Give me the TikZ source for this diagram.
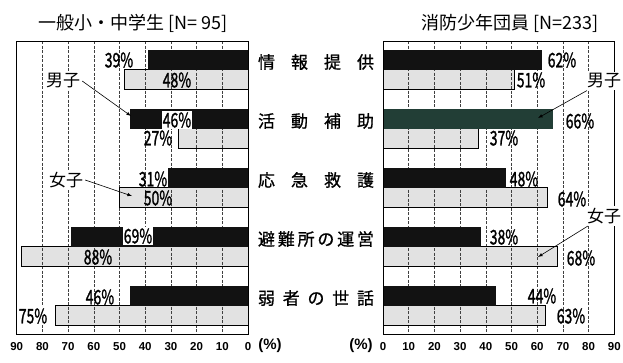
\documentclass[tikz,border=0pt]{standalone}
\usepackage{fontspec}
\setmainfont{Noto Sans CJK JP}
\newfontfamily\axf{Liberation Sans}
\newfontfamily\pcf{Noto Sans CJK JP}[FakeBold=1.6]
\newfontfamily\ctf{Noto Sans CJK JP}[FakeBold=0.8]
\usepackage{tikz}
\definecolor{dk}{RGB}{18, 18, 18}
\definecolor{lg}{RGB}{226, 226, 226}
\definecolor{tl}{RGB}{34, 62, 54}
\usetikzlibrary{positioning}

\begin{document}
\begin{tikzpicture}
			[x=1pt,y=-1pt,every node/.style={inner sep=1pt},
			pct/.style={font=\pcf\fontsize{20}{20}\selectfont,xscale=.7},
			pctw/.style={pct,fill=white},
			cat/.style={font=\ctf\fontsize{17}{17}\selectfont},
			tag/.style={font=\fontsize{17}{17}\selectfont,fill=white,inner sep=2pt},
			ax/.style={font=\axf\bfseries\fontsize{11.5}{11.5}\selectfont},
			gridline/.style={line width=0.6pt,color=black!75,dash pattern=on 3pt off 1.5pt}]
			\useasboundingbox (0,0) rectangle (623,362);
			% titles
			\node (t1) [font=\fontsize{18}{18}\selectfont] at (133,23) {一般小・中学生 [N= 95]};
			\node (t2) [font=\fontsize{18}{18}\selectfont] at (510,23) {消防少年団員 [N=233]};
			% light bars (female)
			\foreach \y/\a/\b/\c/\d in {50/39/48/62/51,109/46/27/66/37,168/31/50/48/64,227/69/88/38/68,286/46/75/44/63} {
				\fill[lg] ({248-\b*2.57},{\y+19.5}) rectangle (248,{\y+39});
				\fill[lg] (383,{\y+19.5}) rectangle ({383+\d*2.57},{\y+39});
			}
			% grid
			\foreach \k in {1,...,8} {
				\draw[gridline] ({248-\k*25.7},41) -- ({248-\k*25.7},334);
				\draw[gridline] ({383+\k*25.7},41) -- ({383+\k*25.7},334);
			}
			% outlines and dark bars (male)
			\foreach \y/\a/\b/\c/\d in {50/39/48/62/51,109/46/27/66/37,168/31/50/48/64,227/69/88/38/68,286/46/75/44/63} {
				\draw[line width=0.8pt] ({248-\b*2.57},{\y+19.5}) rectangle (248,{\y+39});
				\draw[line width=0.8pt] (383,{\y+19.5}) rectangle ({383+\d*2.57},{\y+39});
				\fill[dk] ({248-\a*2.57},\y) rectangle (248,{\y+19.5});
				\fill[dk] (383,\y) rectangle ({383+\c*2.57},{\y+19.5});
			}
			\fill[tl] (383,109) rectangle ({383+66*2.57},128.5);
			\draw[line width=0.9pt] (16.7,41) rectangle (248,334);
			\draw[line width=0.9pt] (383,41) rectangle (614.3,334);
			% categories
			\foreach \y/\t [count=\i] in {62/{情\hfill 報\hfill 提\hfill 供},121/{活\hfill 動\hfill 補\hfill 助},180/{応\hfill 急\hfill 救\hfill 護},239/{避\hfill 難\hfill 所\hfill の\hfill 運\hfill 営},298/{弱\hfill 者\hfill の\hfill 世\hfill 話}}
				\node (c\i) [cat] at (316,\y) {\hbox to 116pt{\t}};
			% percentages, left
			\node (p1) [pct] at (119,60) {39\%};
			\node (p2) [pct] at (177,80) {48\%};
			\node (p3) [pctw] at (177,120) {46\%};
			\node (p4) [pct] at (158,138) {27\%};
			\node (p5) [pct] at (153,179) {31\%};
			\node (p6) [pct] at (158,198) {50\%};
			\node (p7) [pctw] at (138,236) {69\%};
			\node (p8) [pct] at (98,257) {88\%};
			\node (p9) [pct] at (100,297) {46\%};
			\node (p10) [pctw] at (33,316) {75\%};
			% percentages, right
			\node (q1) [pct] at (562,60) {62\%};
			\node (q2) [pct] at (531,80) {51\%};
			\node (q3) [pct] at (580,121) {66\%};
			\node (q4) [pct] at (504,138) {37\%};
			\node (q5) [pct] at (524,179) {48\%};
			\node (q6) [pct] at (572,199) {64\%};
			\node (q7) [pct] at (504,237) {38\%};
			\node (q8) [pct] at (581,258) {68\%};
			\node (q9) [pct] at (542,296) {44\%};
			\node (q10) [pct] at (571,316) {63\%};
			% male / female pointers
			\node (m1) [tag] at (63,81) {男子};
			\node (f1) [tag] at (66,180) {女子};
			\node (m2) [tag] at (604,81) {男子};
			\node (f2) [tag] at (604,216) {女子};
			\coordinate (a1) at (131,116);
			\coordinate (a2) at (132,196);
			\coordinate (a3) at (538,118);
			\coordinate (a4) at (538,257);
			\draw[line width=0.6pt,-latex] (m1.east) -- (a1);
			\draw[line width=0.6pt,-latex] (f1.east) -- (a2);
			\draw[line width=0.6pt,-latex] (m2) -- (a3);
			\draw[line width=0.6pt,-latex] (f2) -- (a4);
			% axes
			\foreach \k [evaluate=\k as \v using int(10*\k)] in {0,...,9} {
				\node (la\k) [ax] at ({248-\k*25.7},347) {\v};
				\node (ra\k) [ax] at ({383+\k*25.7},347) {\v};
			}
			\node (ul) [ax,font=\axf\bfseries\fontsize{15}{15}\selectfont] at (270,346) {(\%)};
			\node (ur) [ax,font=\axf\bfseries\fontsize{15}{15}\selectfont] at (361,346) {(\%)};
		\end{tikzpicture}
\end{document}
